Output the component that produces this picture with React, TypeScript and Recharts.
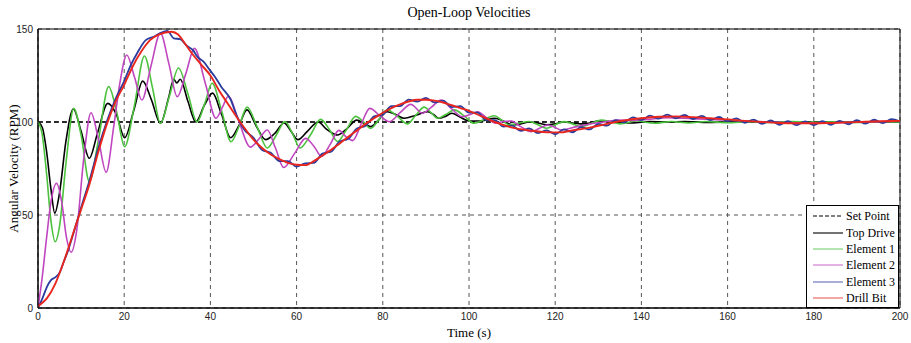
import { CartesianGrid, Legend, Line, LineChart, ReferenceArea, XAxis, YAxis } from "recharts";

type Pt = [number, number];

const xTicks = [0, 20, 40, 60, 80, 100, 120, 140, 160, 180, 200];
const yTicks = [0, 50, 100, 150];

// [time (s), RPM]
const setPoint: Pt[] = [[0, 100], [200, 100]];

const topDrive: Pt[] = [
  [0, 100], [1, 97], [2, 84], [3, 64], [3.9, 51], [5, 62], [6.5, 90], [8.2, 107], [10, 95], [11.9, 80.5],
  [13.8, 94], [16.2, 110], [18.2, 104], [20.1, 91.5], [22.2, 106], [24.3, 122], [26.3, 112], [28.4, 99.3],
  [30.3, 113], [31.5, 123], [32.2, 121], [33, 123], [34.8, 111], [36.6, 100], [38.6, 109], [40.5, 115.5],
  [42.6, 104], [44.7, 91.5], [46.6, 98], [48.5, 106.5], [50.6, 98], [52.8, 90.5], [55, 94], [57.1, 99.5],
  [58.7, 95], [60.3, 90.5], [62.5, 95], [65, 100], [67, 96], [68.7, 93.5], [69.5, 93], [71.5, 96], [74, 101],
  [75.5, 99.5], [77.2, 97.5], [79, 101], [81, 105.5], [83, 104], [85, 102], [87.5, 103.5], [90.4, 105.5],
  [91.8, 104], [93, 102], [94.5, 103], [96, 104.7], [98, 102.5], [100, 100.5], [102.5, 100.5], [106, 102],
  [108, 100.5], [110, 98.5], [112, 99], [114, 100], [116, 99.5], [118, 98.5], [120, 99], [122, 100],
  [124, 99.5], [126, 99], [128, 99.5], [130, 100.5], [134, 100], [138, 99.5], [142, 100.2], [146, 100],
  [150, 100.3], [155, 99.8], [160, 100], [165, 100.2], [170, 99.9], [175, 100], [180, 99.9], [185, 100],
  [190, 100.1], [195, 100], [200, 100],
];

const element1: Pt[] = [
  [0, 100], [1, 93], [2, 72], [3, 47], [4, 35.6], [5, 44], [6.5, 78], [8.3, 107.3], [10, 93], [11.9, 68],
  [14, 90], [16.4, 119], [18.2, 106], [20.1, 86.7], [22.3, 108], [24.7, 135.5], [26.6, 118], [28.4, 99.3],
  [30.5, 114], [32.6, 129], [34.8, 115], [36.9, 100], [38.7, 110], [40.4, 120.8], [42.6, 106], [44.8, 89.4],
  [46.7, 98], [48.5, 108], [50.9, 97], [53.2, 86], [55.3, 93], [57.3, 100.2], [59, 94], [60.8, 86],
  [63.2, 93], [65.6, 101.4], [67.6, 96], [69.5, 89.5], [71.6, 96], [73.7, 103], [75.5, 100], [77.2, 96.6],
  [79, 101], [81, 106.5], [83.4, 103], [85.7, 99], [87.6, 103.5], [89.6, 108], [91.2, 105], [92.7, 102],
  [94.6, 104], [96.6, 106.5], [99, 103], [101.2, 99.3], [103.6, 101.5], [105.9, 103.4], [107.6, 101],
  [109.4, 98.4], [111.7, 99.5], [114, 100.3], [116, 98.5], [118, 96.6], [120, 98.5], [122, 100.2], [124, 99],
  [126, 97.5], [128.4, 99.3], [130.7, 101], [133, 100], [135, 99], [139, 100.5], [143, 99.3], [147, 100.3],
  [151, 99.5], [155, 100.3], [160, 99.6], [165, 100.2], [170, 99.7], [175, 100.2], [180, 99.8], [185, 100.1],
  [190, 99.8], [195, 100.1], [200, 100],
];

const element2: Pt[] = [
  [0, 0], [1, 17], [2, 38], [3, 57], [4.3, 67], [5.5, 57], [6.6, 38], [7.7, 30], [9, 42], [10.6, 80],
  [12.3, 105], [14, 91], [15.8, 73], [17.6, 98], [19, 121], [20.6, 136], [22.4, 124], [24.1, 111.8],
  [26.2, 130], [28.4, 147.7], [30.4, 131], [32.3, 113.6], [34.3, 126], [36.3, 139.6], [38.8, 121],
  [41.3, 102], [42.8, 108], [44.2, 114], [46.5, 101], [49.3, 86.5], [51.3, 91], [53.2, 95.7], [55.1, 86],
  [57, 75.5], [59.5, 83], [62.1, 91.2], [64, 87], [65.8, 81.5], [67.8, 88], [69.8, 95.5], [71.5, 92],
  [73, 90], [75, 99], [77, 107.3], [79.5, 103], [81.5, 100.2], [84, 105], [86.5, 109.5], [89.2, 104.7],
  [91.3, 108], [93.5, 111.8], [96, 107], [98.5, 102.8], [100.3, 104], [102, 105.5], [104.2, 102],
  [106.3, 99.3], [108, 100.3], [109.8, 100.5], [112, 97.5], [114.4, 94.8], [116.4, 96.7], [118.3, 98.4],
  [120, 97], [121.4, 95.7], [125, 97.5], [129, 99.3], [132, 100.3], [134.6, 101], [138, 100.8], [142, 101.5],
  [146, 102.3], [150, 102], [155, 101.5], [160, 101], [165, 100.4], [170, 100], [175, 99.6], [180, 99.5],
  [185, 99.6], [190, 99.9], [195, 100.2], [200, 100.5],
];

const element3: Pt[] = [
  [0, 0], [1, 5], [2, 11], [3, 15], [4, 16.5], [5, 19], [6, 25], [7, 31], [8, 38.5], [10, 54], [12, 69],
  [14, 86], [16, 100.5], [18, 112.5], [20, 122], [21.5, 130.5], [23, 137], [25, 144], [27, 146], [28.5, 148],
  [30, 149], [31.5, 145], [33, 144.5], [34.5, 141], [36, 138.5], [37, 135], [38.4, 132.4], [40, 127.5],
  [41, 124.5], [42.5, 119], [44.7, 112], [46, 104], [48, 95.5], [50, 91.5], [52, 85], [54, 83.5], [56, 79],
  [58, 79], [60, 76], [62, 77.8], [64, 78], [66, 83], [68, 84], [70, 89.5], [72, 91], [74, 96.5], [76, 98],
  [78, 103], [80, 104], [82, 108.5], [84, 108.5], [86, 112], [88, 111], [90, 113], [92, 110.5], [94, 111.5],
  [96, 108], [98, 108.5], [100, 105], [102, 105], [104, 101], [106, 101], [108, 97.5], [110, 98], [112, 95.2],
  [114, 96.5], [116, 94], [118, 95.5], [120, 93.4], [122, 96], [124, 94.5], [126, 97.2], [128, 96], [130, 99],
  [132, 98], [134, 101], [136, 99.8], [138, 102.5], [140, 101], [142, 103.4], [144, 101.8], [146, 104],
  [148, 102], [150, 103.8], [152, 101.6], [154, 103.3], [156, 101], [158, 102.7], [160, 100.4], [162, 102],
  [164, 99.6], [166, 101.3], [168, 99], [170, 100.8], [172, 98.5], [174, 100.4], [176, 98.3], [178, 100.3],
  [180, 98.3], [182, 100.4], [184, 98.5], [186, 100.6], [188, 98.8], [190, 101], [192, 99.1], [194, 101.2],
  [196, 99.4], [198, 101.5], [200, 100.2],
];

const drillBit: Pt[] = [
  [0, 1], [2, 5], [4, 13], [6, 25], [8, 39], [10, 53], [12, 67], [14, 84], [16, 99], [18, 111], [20, 120],
  [22, 130], [24, 138], [26, 144], [28, 147], [31, 148.5], [32.5, 147], [34, 142.5], [36, 136], [38, 130.5],
  [40, 125], [42, 117], [44, 110], [46, 103], [48, 96.5], [50, 90.5], [52, 86], [54, 82.5], [56, 80], [58, 78],
  [60, 77], [62, 76.8], [64, 79], [66, 82], [68, 85], [70, 88.5], [72, 92], [74, 95.5], [76, 99], [78, 102],
  [80, 105], [82, 107.5], [84, 109.5], [86, 111], [88, 112], [90, 112], [92, 111.5], [94, 110.5], [96, 109],
  [98, 107.5], [100, 106], [103, 103], [106, 100], [110, 97], [114, 95.5], [118, 94.5], [121, 94.4],
  [124, 95.5], [128, 97], [132, 99], [136, 100.8], [140, 102], [144, 102.8], [148, 103], [152, 102.6],
  [156, 102], [160, 101.4], [164, 100.6], [168, 100], [172, 99.5], [176, 99.3], [180, 99.3], [184, 99.5],
  [188, 99.8], [192, 100.1], [196, 100.4], [200, 100.6],
];

const serif = "'Liberation Serif', 'Times New Roman', serif";
const sans = "'Liberation Sans', Arial, sans-serif";

const styles: Record<string, { color: string; width: number; dash?: string }> = {
  "Set Point": { color: "#000", width: 1.4, dash: "5 3" },
  "Top Drive": { color: "#000", width: 1.6 },
  "Element 1": { color: "#4cc23e", width: 1.6 },
  "Element 2": { color: "#c046c0", width: 1.6 },
  "Element 3": { color: "#2a3c9e", width: 1.8 },
  "Drill Bit": { color: "#e8261e", width: 1.9 },
};

const series: { name: string; pts: Pt[] }[] = [
  { name: "Set Point", pts: setPoint },
  { name: "Top Drive", pts: topDrive },
  { name: "Element 1", pts: element1 },
  { name: "Element 2", pts: element2 },
  { name: "Element 3", pts: element3 },
  { name: "Drill Bit", pts: drillBit },
];

function LegendBox() {
  return (
    <div
      style={{
        border: "1px solid #000",
        background: "#fff",
        boxSizing: "border-box",
        width: 93,
        height: 103,
        paddingTop: 2,
        fontFamily: serif,
        fontSize: 12,
        color: "#000",
      }}
    >
      {series.map(({ name }) => {
        const s = styles[name];
        return (
          <div key={name} style={{ display: "flex", alignItems: "center", height: 16.4 }}>
            <svg width={38} height={8} style={{ flex: "none" }}>
              <line
                x1={6}
                x2={36}
                y1={4}
                y2={4}
                stroke={s.color}
                strokeWidth={1.1}
                strokeDasharray={s.dash ? "4 2" : undefined}
                opacity={s.color === "#000" ? 1 : 0.75}
              />
            </svg>
            <span style={{ marginLeft: 1, whiteSpace: "nowrap", lineHeight: "14px" }}>{name}</span>
          </div>
        );
      })}
    </div>
  );
}

function YTitle({ viewBox }: any) {
  const cy = viewBox.y + viewBox.height / 2;
  return (
    <text x={13} y={cy} transform={`rotate(-90 13 ${cy})`} textAnchor="middle" dominantBaseline="central"
      fontFamily={serif} fontSize={13} fill="#000">
      Angular Velocity (RPM)
    </text>
  );
}

export default function App() {
  return (
    <div style={{ position: "absolute", left: 0, top: 0, width: 911, height: 343, background: "#fff" }}>
      <div
        style={{
          position: "absolute",
          left: 38,
          top: 5,
          width: 862,
          textAlign: "center",
          fontFamily: serif,
          fontSize: 14,
          lineHeight: "16px",
          color: "#000",
        }}
      >
        Open-Loop Velocities
      </div>
      <LineChart width={911} height={343} margin={{ top: 29, right: 11, bottom: 0, left: 0 }}>
        <CartesianGrid stroke="#555" strokeDasharray="4 4" strokeWidth={1} />
        <XAxis
          dataKey="t"
          type="number"
          domain={[0, 200]}
          ticks={xTicks}
          allowDataOverflow
          height={35}
          tickSize={0}
          tickMargin={5}
          axisLine={{ stroke: "#000" }}
          tick={{ fill: "#222", fontSize: 10, fontFamily: sans }}
          label={{ value: "Time (s)", position: "insideBottom", offset: 6, fontFamily: serif, fontSize: 13, fill: "#000" }}
        />
        <YAxis
          dataKey="v"
          type="number"
          domain={[0, 150]}
          ticks={yTicks}
          allowDataOverflow
          width={38}
          tickSize={0}
          tickMargin={5}
          axisLine={{ stroke: "#000" }}
          tick={{ fill: "#222", fontSize: 10, fontFamily: sans }}
          label={<YTitle />}
        />
        <ReferenceArea x1={0} x2={200} y1={0} y2={150} fill="none" stroke="#000" strokeWidth={1} ifOverflow="visible" />
        {series.map((s) => {
          const st = styles[s.name];
          return (
            <Line
              key={s.name}
              name={s.name}
              data={s.pts.map(([t, v]) => ({ t, v }))}
              dataKey="v"
              type={s.name === "Set Point" ? "linear" : "monotone"}
              stroke={st.color}
              strokeWidth={st.width}
              strokeDasharray={st.dash}
              dot={false}
              activeDot={false}
              isAnimationActive={false}
            />
          );
        })}
        <Legend
          layout="vertical"
          align="center"
          verticalAlign="middle"
          content={<LegendBox />}
          wrapperStyle={{ left: 806, top: 205, width: 93, height: 103 }}
        />
      </LineChart>
    </div>
  );
}
